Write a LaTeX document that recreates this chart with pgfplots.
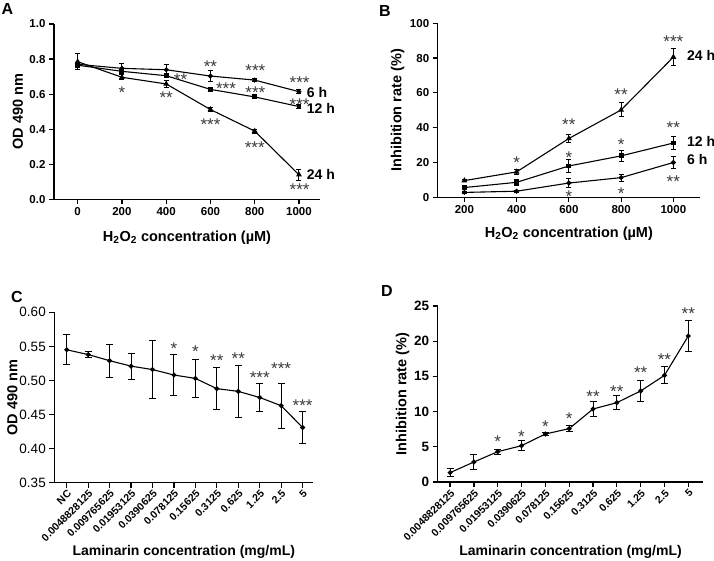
\documentclass[border=0pt]{standalone}
\usepackage{pgfplots}
\pgfplotsset{compat=1.18}
\usepackage{fontspec}
\setmainfont{Liberation Sans}
\definecolor{astc}{HTML}{3A3A3A}
\pgfplotsset{
  gp/.style={
    scale only axis,
    axis x line*=bottom, axis y line*=left,
    axis line style={line width=1.2pt,-},
    tick style={line width=1.2pt,black},
    major tick length=5pt,
    tick align=outside,
    clip=false,
    /pgf/number format/assume math mode=true,
    /pgf/number format/set thousands separator={},
    error bars/error bar style={line width=1pt,black},
    error bars/error mark options={rotate=90,mark size=2.5pt,line width=1pt,black},
    every axis x label/.style={at={(axis description cs:0.5,0)},anchor=center,font=\bfseries\fontsize{14.5}{15}\selectfont},
    every axis y label/.style={at={(axis description cs:0,0.5)},anchor=center,rotate=90,font=\bfseries\fontsize{14.5}{15}\selectfont},
  },
  ln/.style={black,line width=1.1pt,mark options={fill=black,solid}},
}
\tikzset{
  ast/.style={font=\fontsize{17}{17}\selectfont,text=astc,anchor=base,yshift=-9.5pt,inner sep=0pt},
  lab/.style={font=\bfseries\fontsize{14}{14}\selectfont,anchor=west,inner sep=0pt},
}
\begin{document}
\begin{tikzpicture}
\useasboundingbox (0,0) rectangle (714pt,560pt);
% Panel letters
\node[font=\bfseries\fontsize{16}{16}\selectfont] at (7.5pt,551pt) {A};
\node[font=\bfseries\fontsize{16}{16}\selectfont] at (385pt,549pt) {B};
\node[font=\bfseries\fontsize{16}{16}\selectfont] at (17pt,263pt) {C};
\node[font=\bfseries\fontsize{16}{16}\selectfont] at (387pt,269pt) {D};

% ---------- A ----------
\begin{axis}[gp, at={(54pt,360.7pt)}, anchor=south west,
  width=266pt, height=175.3pt,
  xmin=-107, xmax=1095, ymin=0, ymax=1.0,
  xtick={0,200,400,600,800,1000},
  ytick={0,0.2,0.4,0.6,0.8,1.0},
  yticklabel style={/pgf/number format/.cd,fixed,fixed zerofill,precision=1},
  ticklabel style={font=\bfseries\fontsize{11.5}{12}\selectfont},
  xlabel={H\textsubscript{2}O\textsubscript{2} concentration (µM)},
  ylabel={OD 490 nm},
  xlabel style={yshift=-38pt}, ylabel style={yshift=36pt},
]
\addplot[ln, mark=*, mark size=1.9pt, error bars/.cd, y dir=both, y explicit]
 coordinates {(0,0.770)+-(0,0.010) (200,0.747)+-(0,0.025) (400,0.739)+-(0,0.030) (600,0.703)+-(0,0.030) (800,0.680)+-(0,0.010) (1000,0.614)+-(0,0.010)};
\addplot[ln, mark=square*, mark size=1.9pt, error bars/.cd, y dir=both, y explicit]
 coordinates {(0,0.765)+-(0,0.015) (200,0.730)+-(0,0.010) (400,0.705)+-(0,0.012) (600,0.627)+-(0,0.008) (800,0.584)+-(0,0.008) (1000,0.529)+-(0,0.010)};
\addplot[ln, mark=triangle*, mark size=2.3pt, error bars/.cd, y dir=both, y explicit]
 coordinates {(0,0.785)+-(0,0.045) (200,0.696)+-(0,0.015) (400,0.658)+-(0,0.020) (600,0.512)+-(0,0.010) (800,0.389)+-(0,0.012) (1000,0.140)+-(0,0.030)};
\node[ast] at (axis cs:200,0.63) {*};
\node[ast] at (axis cs:400,0.60) {**};
\node[ast] at (axis cs:465,0.705) {**};
\node[ast] at (axis cs:600,0.78) {**};
\node[ast] at (axis cs:670,0.654) {***};
\node[ast] at (axis cs:600,0.449) {***};
\node[ast] at (axis cs:803,0.756) {***};
\node[ast] at (axis cs:803,0.63) {***};
\node[ast] at (axis cs:800,0.317) {***};
\node[ast] at (axis cs:1003,0.686) {***};
\node[ast] at (axis cs:1003,0.559) {***};
\node[ast] at (axis cs:1003,0.076) {***};
\node[lab] at (axis cs:1035,0.61) {6 h};
\node[lab] at (axis cs:1035,0.52) {12 h};
\node[lab] at (axis cs:1035,0.14) {24 h};
\end{axis}

% ---------- B ----------
\begin{axis}[gp, at={(437.7pt,362.7pt)}, anchor=south west,
  width=262.3pt, height=174pt,
  xmin=98, xmax=1102, ymin=0, ymax=100,
  xtick={200,400,600,800,1000},
  ytick={0,20,40,60,80,100},
  ticklabel style={font=\bfseries\fontsize{11.5}{12}\selectfont},
  xlabel={H\textsubscript{2}O\textsubscript{2} concentration (µM)},
  ylabel={Inhibition rate (\%)},
  xlabel style={yshift=-36pt}, ylabel style={yshift=40pt},
]
\addplot[ln, mark=triangle*, mark size=2.3pt, error bars/.cd, y dir=both, y explicit]
 coordinates {(200,9.6)+-(0,0.8) (400,14.6)+-(0,1.5) (600,33.8)+-(0,2.3) (800,50.2)+-(0,4) (1000,80.6)+-(0,5)};
\addplot[ln, mark=square*, mark size=1.9pt, error bars/.cd, y dir=both, y explicit]
 coordinates {(200,5.6)+-(0,1) (400,8.6)+-(0,1.8) (600,18)+-(0,3.5) (800,23.8)+-(0,3) (1000,31.2)+-(0,4)};
\addplot[ln, mark=*, mark size=1.9pt, error bars/.cd, y dir=both, y explicit]
 coordinates {(200,2.8)+-(0,0.8) (400,3.5)+-(0,0.6) (600,8.2)+-(0,2.5) (800,11.3)+-(0,2) (1000,20)+-(0,3.5)};
\node[ast] at (axis cs:400,22.1) {*};
\node[ast] at (axis cs:600,43.8) {**};
\node[ast] at (axis cs:600,25) {*};
\node[ast] at (axis cs:600,2.3) {*};
\node[ast] at (axis cs:800,61) {**};
\node[ast] at (axis cs:800,32.3) {*};
\node[ast] at (axis cs:800,4.2) {*};
\node[ast] at (axis cs:1000,91.3) {***};
\node[ast] at (axis cs:1000,42.3) {**};
\node[ast] at (axis cs:1000,11.2) {**};
\node[lab] at (axis cs:1052,81.8) {24 h};
\node[lab] at (axis cs:1052,32) {12 h};
\node[lab] at (axis cs:1052,21.8) {6 h};
\end{axis}

% ---------- C ----------
\begin{axis}[gp, at={(54.3pt,77.3pt)}, anchor=south west,
  width=259pt, height=170.4pt,
  xmin=-0.58, xmax=11.5, ymin=0.35, ymax=0.60,
  xtick={0,...,11},
  xticklabels={NC,0.0048828125,0.009765625,0.01953125,0.0390625,0.078125,0.15625,0.3125,0.625,1.25,2.5,5},
  xticklabel style={rotate=45,anchor=north east,font=\bfseries\fontsize{10.5}{11}\selectfont,inner sep=1pt},
  ytick={0.35,0.40,0.45,0.50,0.55,0.60},
  yticklabel style={font=\fontsize{13.5}{14}\selectfont,/pgf/number format/.cd,fixed,fixed zerofill,precision=2},
  xlabel={Laminarin concentration (mg/mL)},
  ylabel={OD 490 nm},
  xlabel style={yshift=-69pt,font=\bfseries\fontsize{14}{14}\selectfont}, ylabel style={yshift=42pt},
]
\addplot[ln, mark=*, mark size=1.9pt, error bars/.cd, y dir=both, y explicit, error mark options={rotate=90,mark size=3.5pt,line width=1pt,black}]
 coordinates {(0,0.545)+-(0,0.022) (1,0.538)+-(0,0.005) (2,0.529)+-(0,0.024) (3,0.521)+-(0,0.019) (4,0.516)+-(0,0.043) (5,0.508)+-(0,0.030) (6,0.503)+-(0,0.0275) (7,0.488)+-(0,0.031) (8,0.484)+-(0,0.038) (9,0.475)+-(0,0.020) (10,0.463)+-(0,0.033) (11,0.431)+-(0,0.023)};
\node[ast] at (axis cs:5,0.552) {*};
\node[ast] at (axis cs:6,0.548) {*};
\node[ast] at (axis cs:7,0.534) {**};
\node[ast] at (axis cs:8,0.537) {**};
\node[ast] at (axis cs:9,0.510) {***};
\node[ast] at (axis cs:10,0.523) {***};
\node[ast] at (axis cs:11,0.469) {***};
\end{axis}

% ---------- D ----------
\begin{axis}[gp, at={(437.7pt,78pt)}, anchor=south west,
  width=265.6pt, height=176pt,
  xmin=-0.52, xmax=10.63, ymin=0, ymax=25,
  xtick={0,...,10},
  xticklabels={0.0048828125,0.009765625,0.01953125,0.0390625,0.078125,0.15625,0.3125,0.625,1.25,2.5,5},
  xticklabel style={rotate=45,anchor=north east,font=\bfseries\fontsize{10.5}{11}\selectfont,inner sep=1pt},
  ytick={0,5,10,15,20,25},
  yticklabel style={font=\bfseries\fontsize{13.5}{14}\selectfont},
  xlabel={Laminarin concentration (mg/mL)},
  ylabel={Inhibition rate (\%)},
  xlabel style={yshift=-70pt,font=\bfseries\fontsize{14}{14}\selectfont}, ylabel style={yshift=35pt},
]
\addplot[ln, mark=*, mark size=1.9pt, error bars/.cd, y dir=both, y explicit, error mark options={rotate=90,mark size=3.5pt,line width=1pt,black}]
 coordinates {(0,1.33)+-(0,0.6) (1,2.84)+-(0,1.1) (2,4.31)+-(0,0.35) (3,5.16)+-(0,0.7) (4,6.82)+-(0,0.2) (5,7.58)+-(0,0.45) (6,10.37)+-(0,1.1) (7,11.27)+-(0,1.0) (8,12.93)+-(0,1.5) (9,15.15)+-(0,1.2) (10,20.74)+-(0,2.2)};
\node[ast] at (axis cs:2,6.2) {*};
\node[ast] at (axis cs:3,7.0) {*};
\node[ast] at (axis cs:4,8.33) {*};
\node[ast] at (axis cs:5,9.56) {*};
\node[ast] at (axis cs:6,12.7) {**};
\node[ast] at (axis cs:7,13.3) {**};
\node[ast] at (axis cs:8,16.0) {**};
\node[ast] at (axis cs:9,17.9) {**};
\node[ast] at (axis cs:10,24.5) {**};
\end{axis}
\end{tikzpicture}
\end{document}
